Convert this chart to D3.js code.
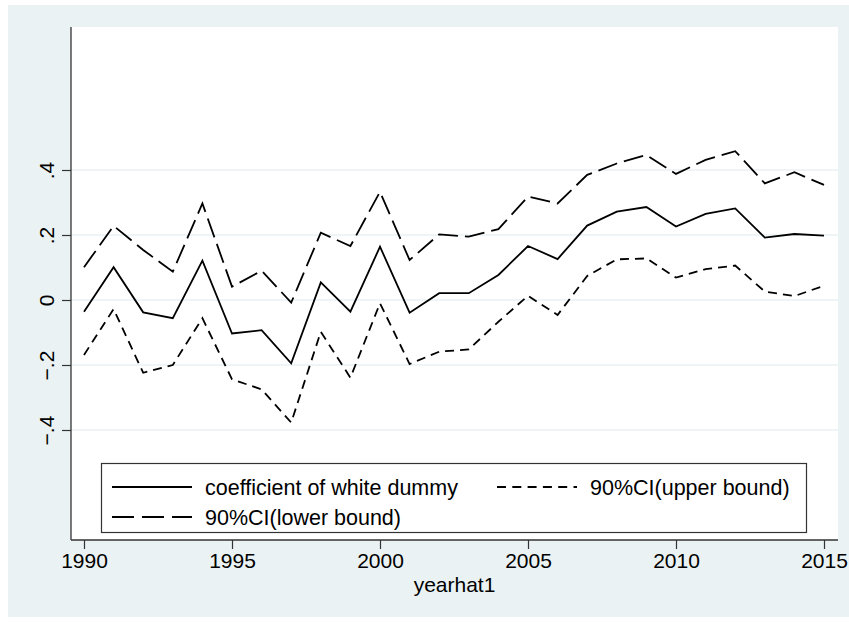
<!DOCTYPE html>
<html>
<head>
<meta charset="utf-8">
<script src="https://cdn.jsdelivr.net/npm/d3@7"></script>
<style>
  body { margin: 0; background: #fff; }
  text { font-family: "Liberation Sans", Arial, sans-serif; fill: #000; }
</style>
</head>
<body>
<svg id="chart" width="849" height="622"></svg>
<script>
// values
const years = d3.range(1990, 2016);
const coef = [-0.036, 0.101, -0.038, -0.056, 0.121, -0.103, -0.093, -0.195, 0.054, -0.036,
  0.164, -0.039, 0.021, 0.021, 0.077, 0.166, 0.126, 0.229, 0.272, 0.286,
  0.226, 0.265, 0.282, 0.192, 0.203, 0.198];
const ciLong = [0.101, 0.228, 0.154, 0.087, 0.297, 0.041, 0.090, -0.008, 0.207, 0.166,
  0.333, 0.123, 0.202, 0.195, 0.218, 0.318, 0.297, 0.385, 0.420, 0.446,
  0.388, 0.431, 0.458, 0.359, 0.393, 0.354];
const ciShort = [-0.169, -0.028, -0.224, -0.200, -0.056, -0.244, -0.275, -0.377, -0.098, -0.239,
  -0.010, -0.197, -0.159, -0.152, -0.067, 0.013, -0.046, 0.074, 0.125, 0.128,
  0.069, 0.095, 0.106, 0.026, 0.012, 0.044];
const xTicks = [1990, 1995, 2000, 2005, 2010, 2015];
const yTicks = [-0.4, -0.2, 0, 0.2, 0.4];
const yTickLabels = ['\u2212.4', '\u2212.2', '0', '.2', '.4'];
const legendLabels = ['coefficient of white dummy', '90%CI(upper bound)', '90%CI(lower bound)'];

const svg = d3.select('#chart');
const plot = { left: 71, right: 838, top: 27, bottom: 540 };

const x = d3.scaleLinear().domain([1990, 2015]).range([84, 824]);
const y = d3.scaleLinear().domain([-0.4, 0.4]).range([430, 170]);

// backgrounds
svg.append('rect').attr('x', 8).attr('y', 5).attr('width', 841).attr('height', 612)
  .attr('fill', '#eaf2f3');
svg.append('rect').attr('x', plot.left).attr('y', plot.top)
  .attr('width', plot.right - plot.left).attr('height', plot.bottom - plot.top)
  .attr('fill', '#fff');

// grid
svg.append('g').selectAll('line').data(yTicks).join('line')
  .attr('x1', plot.left).attr('x2', plot.right)
  .attr('y1', (d) => y(d)).attr('y2', (d) => y(d))
  .attr('stroke', '#eaf2f3').attr('stroke-width', 1.6);

// axes
const xAxis = (g) => g
  .attr('transform', `translate(0,${plot.bottom})`)
  .call(d3.axisBottom(x).tickValues(xTicks).tickFormat(d3.format('d')).tickSize(9).tickPadding(4))
  .call((g) => g.select('.domain').remove())
  .call((g) => g.selectAll('line').attr('stroke', '#333').attr('stroke-width', 1.2))
  .call((g) => g.selectAll('text').attr('font-size', 21).attr('fill', '#000')
    .attr('font-family', '"Liberation Sans", Arial, sans-serif'));

const yAxis = (g) => g
  .attr('transform', `translate(${plot.left},0)`)
  .call(d3.axisLeft(y).tickValues(yTicks).tickSize(9).tickFormat((d, i) => yTickLabels[i]))
  .call((g) => g.select('.domain').remove())
  .call((g) => g.selectAll('line').attr('stroke', '#333').attr('stroke-width', 1.2))
  .call((g) => g.selectAll('text')
    .attr('x', null).attr('dy', null)
    .attr('font-size', 21).attr('fill', '#000')
    .attr('font-family', '"Liberation Sans", Arial, sans-serif')
    .attr('text-anchor', 'middle')
    .attr('transform', 'translate(-17.5,0) rotate(-90)'));

svg.append('g').call(xAxis);
svg.append('g').call(yAxis);

svg.append('line').attr('x1', plot.left).attr('x2', plot.left)
  .attr('y1', plot.top).attr('y2', plot.bottom)
  .attr('stroke', '#333').attr('stroke-width', 1.3);
svg.append('line').attr('x1', plot.left).attr('x2', plot.right)
  .attr('y1', plot.bottom).attr('y2', plot.bottom)
  .attr('stroke', '#333').attr('stroke-width', 1.3);

svg.append('text').attr('x', (plot.left + plot.right) / 2).attr('y', 592)
  .attr('text-anchor', 'middle').attr('font-size', 21).text('yearhat1');

// lines
const series = [
  { values: coef, dash: null },
  { values: ciShort, dash: '9,6' },
  { values: ciLong, dash: '20,7' },
];
const line = d3.line().x((d) => x(d[0])).y((d) => y(d[1]));
svg.append('g').selectAll('path').data(series).join('path')
  .attr('d', (s) => line(years.map((yr, i) => [yr, s.values[i]])))
  .attr('fill', 'none').attr('stroke', '#000').attr('stroke-width', 1.8)
  .attr('stroke-linejoin', 'miter')
  .attr('stroke-dasharray', (s) => s.dash);

// legend
const lg = svg.append('g');
lg.append('rect').attr('x', 101.5).attr('y', 463.5).attr('width', 705).attr('height', 69)
  .attr('fill', '#fff').attr('stroke', '#333').attr('stroke-width', 1.2);
const items = [
  { label: legendLabels[0], dash: null, x: 112, y: 487 },
  { label: legendLabels[1], dash: '9,6.3', x: 497, y: 487 },
  { label: legendLabels[2], dash: '22,8', x: 112, y: 517 },
];
items.forEach((it) => {
  lg.append('line').attr('x1', it.x).attr('x2', it.x + 80)
    .attr('y1', it.y).attr('y2', it.y)
    .attr('stroke', '#000').attr('stroke-width', 1.8)
    .attr('stroke-dasharray', it.dash);
  lg.append('text').attr('x', it.x + 93).attr('y', it.y + 7.5)
    .attr('font-size', 21.5).text(it.label);
});
</script>
</body>
</html>
